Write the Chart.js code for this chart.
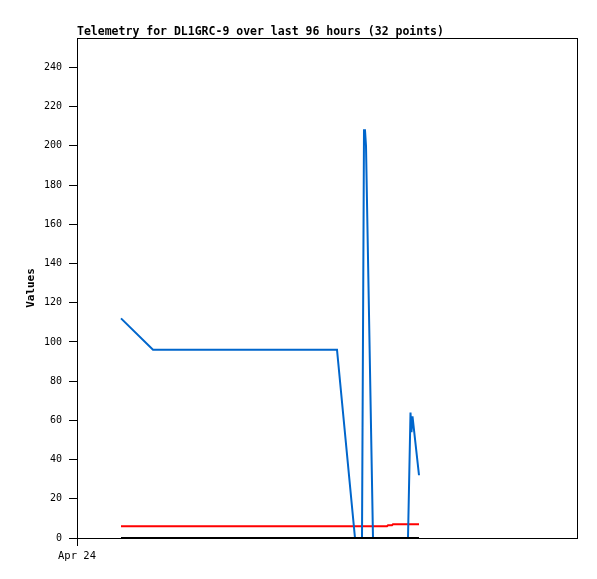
<!DOCTYPE html>
<html>
<head>
<meta charset="utf-8">
<script src="https://cdn.jsdelivr.net/npm/chart.js@4/dist/chart.umd.min.js"></script>
<style>
  body { margin: 0; background: #fff; }
  #wrap { width: 597px; height: 579px; }
</style>
</head>
<body>
<div id="wrap"><canvas id="chart"></canvas></div>
<script>
// hours since the left edge of the axis (Apr 24 00:00)
var blueHours = [14.08, 24.32, 83.2, 88.96, 91.2, 91.84, 92.16, 92.48, 94.72, 105.92, 106.72, 107.04, 107.36, 109.44];
var blueValues = [112, 96, 96, 0, 0, 208, 208, 200, 0, 0, 64, 54, 62, 32];
var redHours = [14.08, 99.2, 99.52, 100.8, 101.12, 109.44];
var redValues = [6, 6, 6.5, 6.5, 7, 7];
var blackHours = [14.08, 109.44];
var blackValues = [0, 0];
var xTickHours = [0];
var xTickLabels = ["Apr 24"];
var titleText = "Telemetry for DL1GRC-9 over last 96 hours (32 points)";

function toPoints(xs, ys) {
  return xs.map(function(x, i) { return { x: x, y: ys[i] }; });
}

var frameBox = {
  id: "frameBox",
  afterDraw: function(chart) {
    var a = chart.chartArea, c = chart.ctx;
    c.save();
    c.strokeStyle = "#000";
    c.lineWidth = 1;
    c.strokeRect(a.left + 0.5, a.top + 0.5, a.right - a.left, a.bottom - a.top);
    c.restore();
  }
};

var ctx = document.getElementById("chart").getContext("2d");

new Chart(ctx, {
  type: "line",
  data: {
    datasets: [{
      label: "zero",
      data: toPoints(blackHours, blackValues),
      borderColor: "#000000",
      borderWidth: 2,
      pointRadius: 0,
      tension: 0
    }, {
      label: "value",
      data: toPoints(blueHours, blueValues),
      borderColor: "#0066cc",
      borderWidth: 2,
      pointRadius: 0,
      tension: 0
    }, {
      label: "red",
      data: toPoints(redHours, redValues),
      borderColor: "#ff0000",
      borderWidth: 2,
      pointRadius: 0,
      tension: 0
    }]
  },
  options: {
    responsive: true,
    maintainAspectRatio: false,
    animation: false,
    layout: { padding: { left: 0, right: 20, top: 0, bottom: 0 } },
    plugins: {
      legend: { display: false },
      tooltip: { enabled: false },
      title: {
        display: true,
        text: titleText,
        align: "start",
        fullSize: false,
        color: "#000",
        font: { family: "'DejaVu Sans Mono', monospace", size: 11.5, weight: "bold", lineHeight: 1 },
        padding: { top: 26, bottom: 0.5 }
      }
    },
    scales: {
      x: {
        type: "linear",
        min: 0,
        max: 160,
        afterBuildTicks: function(scale) {
          scale.ticks = xTickHours.map(function(v) { return { value: v }; });
        },
        afterFit: function(scale) { scale.height = 41; },
        grid: { display: true, drawOnChartArea: false, drawTicks: true, tickLength: 8, color: "#000" },
        border: { display: true, color: "#000", width: 1 },
        ticks: {
          color: "#000",
          padding: 4,
          maxRotation: 0,
          font: { family: "'DejaVu Sans Mono', monospace", size: 10.5 },
          callback: function(v) {
            var i = xTickHours.indexOf(v);
            return i >= 0 ? xTickLabels[i] : "";
          }
        }
      },
      y: {
        min: 0,
        max: 255,
        afterBuildTicks: function(scale) {
          scale.ticks = scale.ticks.filter(function(t) { return t.value % 20 === 0; });
        },
        afterFit: function(scale) { scale.width = 77; },
        title: {
          display: true,
          text: "Values",
          color: "#000",
          font: { family: "'DejaVu Sans Mono', monospace", size: 11, weight: "bold" },
          padding: { top: 25, bottom: 0 }
        },
        grid: { display: true, drawOnChartArea: false, drawTicks: true, tickLength: 8, color: "#000" },
        border: { display: true, color: "#000", width: 1 },
        ticks: {
          stepSize: 20,
          color: "#000",
          padding: 7,
          font: { family: "'DejaVu Sans Mono', monospace", size: 10 }
        }
      }
    }
  },
  plugins: [frameBox]
});
</script>
</body>
</html>
